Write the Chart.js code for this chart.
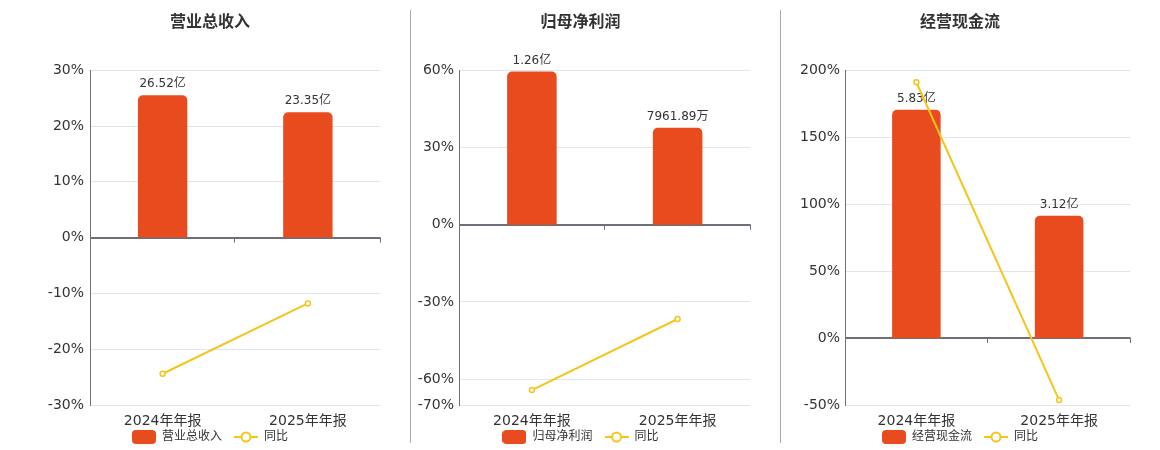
<!DOCTYPE html>
<html>
<head>
<meta charset="utf-8">
<script src="https://cdn.jsdelivr.net/npm/chart.js@4.4.1/dist/chart.umd.min.js"></script>
<style>
body{margin:0;background:#fff;width:1160px;height:450px;position:relative;overflow:hidden;}
canvas{position:absolute;top:0;}
.sep{position:absolute;top:10px;width:1px;height:433px;background:#aaa;}
</style>
</head>
<body>
<div class="sep" style="left:410px"></div>
<div class="sep" style="left:780px"></div>
<canvas id="c1" width="352" height="450" style="left:34px"></canvas>
<canvas id="c2" width="351" height="450" style="left:405px"></canvas>
<canvas id="c3" width="352" height="450" style="left:784px"></canvas>
<script>
const categories = ["2024年年报", "2025年年报"];

// amounts in 万元, yoy in %
const revenue = [265200, 233500];
const revenueYoy = [-24.4, -11.8];
const netProfit = [12600, 7961.89];
const netProfitYoy = [-64.2, -36.6];
const cashFlow = [58300, 31200];
const cashFlowYoy = [191.0, -46.3];

const revenueTicks = [-30, -20, -10, 0, 10, 20, 30];
const netProfitTicks = [-70, -60, -30, 0, 30, 60];
const cashFlowTicks = [-50, 0, 50, 100, 150, 200];

const BAR = "#E84C1E";
const LINE = "#F4C51B";
const FONT = "'DejaVu Sans', 'Noto Sans CJK SC', sans-serif";

Chart.defaults.font.family = FONT;
Chart.defaults.color = "#333";

function fmtAmount(v){
    return v >= 10000 ? (v / 10000).toFixed(2) + "亿" : v.toFixed(2) + "万";
}

// legend icons
const barIcon = document.createElement("canvas");
barIcon.width = 24; barIcon.height = 14;
(function(){
    const c = barIcon.getContext("2d");
    c.fillStyle = BAR;
    c.beginPath();
    c.roundRect(0, 0, 24, 14, 4);
    c.fill();
})();
const lineIcon = document.createElement("canvas");
lineIcon.width = 24; lineIcon.height = 14;
(function(){
    const c = lineIcon.getContext("2d");
    c.strokeStyle = LINE;
    c.lineWidth = 2;
    c.beginPath(); c.moveTo(0, 7); c.lineTo(24, 7); c.stroke();
    c.fillStyle = "#fff";
    c.beginPath(); c.arc(12, 7, 4.5, 0, Math.PI * 2); c.fill(); c.stroke();
})();

const barLabels = {
    id: "barLabels",
    afterDatasetDraw(chart, args){
        if(args.meta.type !== "bar") return;
        const ctx = chart.ctx;
        const data = chart.data.datasets[args.index].data;
        ctx.save();
        ctx.font = "12px " + FONT;
        ctx.fillStyle = "#333";
        ctx.textAlign = "center";
        ctx.textBaseline = "bottom";
        args.meta.data.forEach((el, i) => {
            ctx.fillText(fmtAmount(data[i]), el.x, el.y - 5);
        });
        ctx.restore();
    }
};

const zeroTicks = {
    id: "zeroTicks",
    afterDraw(chart){
        const area = chart.chartArea;
        const y0 = chart.scales.y.getPixelForValue(0);
        const n = chart.data.labels.length;
        const ctx = chart.ctx;
        ctx.save();
        ctx.strokeStyle = "#6E7079";
        ctx.lineWidth = 1;
        for(let i = 1; i <= n; i++){
            const x = Math.round(area.left + (area.right - area.left) * i / n) - 0.5;
            ctx.beginPath();
            ctx.moveTo(x, y0);
            ctx.lineTo(x, y0 + 5);
            ctx.stroke();
        }
        ctx.restore();
    }
};

function makeChart(id, title, barName, bars, yoy, ticks, barRange, yWidth, tickPad){
    return new Chart(document.getElementById(id), {
        data: {
            labels: categories,
            datasets: [{
                type: "bar",
                label: barName,
                data: bars,
                yAxisID: "yb",
                order: 1,
                backgroundColor: BAR,
                borderRadius: {topLeft: 5, topRight: 5, bottomLeft: 0, bottomRight: 0},
                borderSkipped: false,
                barPercentage: 0.34,
                categoryPercentage: 1
            }, {
                type: "line",
                label: "同比",
                data: yoy,
                yAxisID: "y",
                order: 0,
                borderColor: LINE,
                borderWidth: 2,
                pointRadius: 2.5,
                pointBorderWidth: 1.5,
                pointBackgroundColor: "#fff",
                pointBorderColor: LINE,
                tension: 0
            }]
        },
        options: {
            responsive: false,
            animation: false,
            layout: {padding: {top: 0, right: 0, bottom: 5, left: 0}},
            plugins: {
                title: {
                    display: true,
                    text: title,
                    color: "#333",
                    font: {size: 16, weight: "bold"},
                    padding: {top: 13, bottom: 38}
                },
                legend: {
                    position: "bottom",
                    maxHeight: 26,
                    labels: {
                        usePointStyle: true,
                        pointStyleWidth: 24,
                        boxHeight: 14,
                        padding: 12,
                        color: "#333",
                        font: {size: 12},
                        sort: (a, b) => a.datasetIndex - b.datasetIndex,
                        generateLabels(chart){
                            const items = Chart.defaults.plugins.legend.labels.generateLabels(chart);
                            items.forEach(it => { it.pointStyle = it.datasetIndex === 0 ? barIcon : lineIcon; });
                            return items;
                        }
                    }
                },
                tooltip: {enabled: false}
            },
            scales: {
                x: {
                    offset: true,
                    grid: {display: false},
                    border: {display: false},
                    // mirrored labels are not clipped to the (short) axis box
                    ticks: {font: {size: 14}, color: "#333", mirror: true, padding: -25, maxRotation: 0},
                    afterFit: s => { s.height = 14; s.paddingLeft = 0; s.paddingRight = 0; }
                },
                y: {
                    position: "left",
                    min: ticks[0],
                    max: ticks[ticks.length - 1],
                    afterBuildTicks: s => { s.ticks = ticks.map(v => ({value: v})); },
                    afterFit: s => { s.width = yWidth; },
                    ticks: {font: {size: 14}, color: "#333", padding: tickPad, callback: v => v + "%"},
                    grid: {
                        drawTicks: false,
                        color: c => (c.tick && c.tick.value === 0) ? "#6E7079" : "#E0E6F1",
                        lineWidth: c => (c.tick && c.tick.value === 0) ? 2 : 1
                    },
                    border: {color: "#6E7079", width: 1}
                },
                yb: {
                    display: false,
                    min: barRange[0],
                    max: barRange[1]
                }
            }
        },
        plugins: [barLabels, zeroTicks]
    });
}

makeChart("c1", "营业总收入", "营业总收入", revenue, revenueYoy, revenueTicks, [-311700, 311700], 56, 6);
makeChart("c2", "归母净利润", "归母净利润", netProfit, netProfitYoy, netProfitTicks, [-14817, 12700], 54, 5);
makeChart("c3", "经营现金流", "经营现金流", cashFlow, cashFlowYoy, cashFlowTicks, [-17100, 68400], 61, 5);
</script>
</body>
</html>
